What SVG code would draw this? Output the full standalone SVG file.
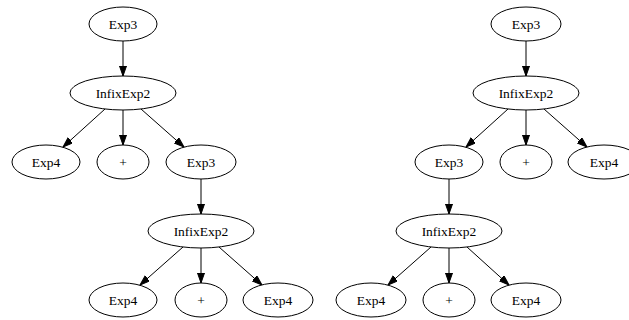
<svg xmlns="http://www.w3.org/2000/svg" width="629" height="320" viewBox="0 0 629 320">
<defs>
<marker id="ah" markerUnits="userSpaceOnUse" markerWidth="11" markerHeight="8" refX="10" refY="3.5" orient="auto">
<path d="M0,0 L10,3.5 L0,7 z" fill="#000" stroke="#000" stroke-width="1"/>
</marker>
</defs>
<style>
ellipse{fill:#fff;stroke:#000;stroke-width:1}
text{font-size:13.5px;fill:#000;text-anchor:middle}
#edges line{stroke:#000;stroke-width:1;marker-end:url(#ah)}
</style>
<rect width="629" height="320" fill="#fff"/>
<g id="edges">
<line x1="123" y1="41" x2="123" y2="76"/>
<line x1="105" y1="109" x2="63" y2="147"/>
<line x1="123" y1="110" x2="123" y2="145"/>
<line x1="141" y1="109" x2="184" y2="147"/>
<line x1="201" y1="179" x2="201" y2="214"/>
<line x1="183" y1="247" x2="140" y2="285"/>
<line x1="201" y1="248" x2="201" y2="283"/>
<line x1="219" y1="247" x2="262" y2="285"/>
<line x1="526" y1="41" x2="526" y2="76"/>
<line x1="508" y1="109" x2="466" y2="147"/>
<line x1="526" y1="110" x2="526" y2="145"/>
<line x1="544" y1="109" x2="587" y2="147"/>
<line x1="449" y1="179" x2="449" y2="214"/>
<line x1="431" y1="247" x2="388" y2="285"/>
<line x1="449" y1="248" x2="449" y2="283"/>
<line x1="467" y1="247" x2="509" y2="285"/>
</g>
<g font-family="Liberation Serif, DejaVu Serif, serif">
<g id="L1"><ellipse cx="123" cy="24" rx="34" ry="17"/><text x="123" y="28.5">Exp3</text></g>
<g id="L2"><ellipse cx="123" cy="93" rx="53" ry="17"/><text x="123" y="97.5">InfixExp2</text></g>
<g id="L3a"><ellipse cx="46" cy="162" rx="34" ry="17"/><text x="46" y="166.5">Exp4</text></g>
<g id="L3b"><ellipse cx="123" cy="162" rx="26" ry="17"/><text x="123" y="166.5">+</text></g>
<g id="L3c"><ellipse cx="201" cy="162" rx="35" ry="17"/><text x="201" y="166.5">Exp3</text></g>
<g id="L4"><ellipse cx="201" cy="231" rx="53" ry="17"/><text x="201" y="235.5">InfixExp2</text></g>
<g id="L5a"><ellipse cx="123" cy="300" rx="34" ry="17"/><text x="123" y="304.5">Exp4</text></g>
<g id="L5b"><ellipse cx="201" cy="300" rx="26" ry="17"/><text x="201" y="304.5">+</text></g>
<g id="L5c"><ellipse cx="278" cy="300" rx="35" ry="17"/><text x="278" y="304.5">Exp4</text></g>
<g id="R1"><ellipse cx="526" cy="24" rx="35" ry="17"/><text x="526" y="28.5">Exp3</text></g>
<g id="R2"><ellipse cx="526" cy="93" rx="53" ry="17"/><text x="526" y="97.5">InfixExp2</text></g>
<g id="R3a"><ellipse cx="449" cy="162" rx="34" ry="17"/><text x="449" y="166.5">Exp3</text></g>
<g id="R3b"><ellipse cx="526" cy="162" rx="26" ry="17"/><text x="526" y="166.5">+</text></g>
<g id="R3c"><ellipse cx="604" cy="162" rx="36" ry="17"/><text x="604" y="166.5">Exp4</text></g>
<g id="R4"><ellipse cx="449" cy="231" rx="53" ry="17"/><text x="449" y="235.5">InfixExp2</text></g>
<g id="R5a"><ellipse cx="371" cy="300" rx="35" ry="17"/><text x="371" y="304.5">Exp4</text></g>
<g id="R5b"><ellipse cx="449" cy="300" rx="26" ry="17"/><text x="449" y="304.5">+</text></g>
<g id="R5c"><ellipse cx="526" cy="300" rx="35" ry="17"/><text x="526" y="304.5">Exp4</text></g>
</g>
</svg>
